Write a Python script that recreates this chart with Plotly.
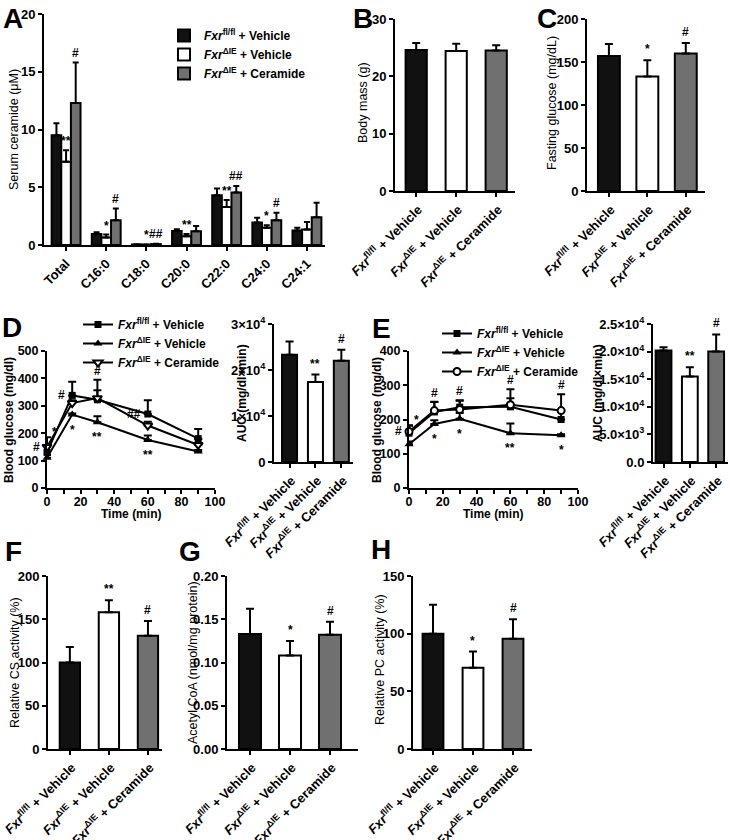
import plotly.graph_objects as go

# ---------------- data ----------------
groups = ["<i>Fxr</i><sup>fl/fl</sup> + Vehicle",
          "<i>Fxr</i><sup>ΔIE</sup> + Vehicle",
          "<i>Fxr</i><sup>ΔIE</sup> + Ceramide"]

# A: serum ceramide (µM)
species = ["Total", "C16:0", "C18:0", "C20:0", "C22:0", "C24:0", "C24:1"]
A_flfl = [9.5, 0.95, 0.05, 1.22, 4.3, 1.95, 1.25]
A_flfl_err = [1.05, 0.15, 0.02, 0.15, 0.6, 0.4, 0.25]
A_die = [7.2, 0.65, 0.03, 0.75, 3.3, 1.5, 1.35]
A_die_err = [1.0, 0.25, 0.02, 0.2, 0.6, 0.2, 0.65]
A_cer = [12.3, 2.15, 0.08, 1.2, 4.55, 2.15, 2.4]
A_cer_err = [3.5, 1.0, 0.03, 0.45, 0.55, 0.65, 1.25]
A_sig_die = ["**", "*", "*", "**", "**", "*", ""]
A_sig_cer = ["#", "#", "##", "", "##", "#", ""]

# B: body mass (g)
B_vals = [24.6, 24.4, 24.5]
B_err = [1.2, 1.3, 0.9]
B_sig = ["", "", ""]

# C: fasting glucose (mg/dL)
C_vals = [157, 133, 160]
C_err = [14, 19, 12]
C_sig = ["", "*", "#"]

# D / E: glucose tolerance (mg/dl) over time (min)
time_min = [0, 15, 30, 60, 90]
D_flfl = [130, 338, 322, 270, 180]
D_flfl_err = [20, 50, 35, 50, 35]
D_die = [110, 268, 240, 175, 133]
D_die_err = [10, 4, 22, 17, 6]
D_cer = [150, 310, 328, 228, 157]
D_cer_err = [35, 10, 67, 14, 22]
D_auc = [23300, 17400, 22000]
D_auc_err = [2900, 1600, 2400]
D_auc_sig = ["", "**", "#"]
D_auc_ticks = [0, 10000, 20000, 30000]
D_auc_ticktext = ["0", "1×10<sup>4</sup>", "2×10<sup>4</sup>", "3×10<sup>4</sup>"]

E_flfl = [160, 222, 236, 237, 200]
E_flfl_err = [22, 30, 20, 25, 24]
E_die = [128, 187, 202, 160, 154]
E_die_err = [8, 11, 17, 28, 3]
E_cer = [165, 226, 229, 243, 226]
E_cer_err = [18, 25, 26, 45, 48]
E_auc = [20200, 15500, 20000]
E_auc_err = [600, 1650, 3100]
E_auc_sig = ["", "**", "#"]
E_auc_ticks = [0, 5000, 10000, 15000, 20000, 25000]
E_auc_ticktext = ["0.0", "5.0×10<sup>3</sup>", "1.0×10<sup>4</sup>",
                  "1.5×10<sup>4</sup>", "2.0×10<sup>4</sup>", "2.5×10<sup>4</sup>"]

# F, G, H
F_vals = [100, 158, 131]
F_err = [18, 14, 17]
F_sig = ["", "**", "#"]
G_vals = [0.133, 0.108, 0.132]
G_err = [0.029, 0.017, 0.015]
G_sig = ["", "*", "#"]
H_vals = [100, 70.5, 95.5]
H_err = [25, 14, 17]
H_sig = ["", "*", "#"]

# significance marks on the time courses: (time index, text, placement)
D_marks = [(0, "*", "topright"), (0, "#", "left"), (1, "#", "left"), (1, "*", "below"),
           (2, "#", "above"), (2, "**", "below"), (3, "##", "left"), (3, "**", "below")]
E_marks = [(0, "#", "left"), (0, "*", "topright"), (1, "#", "above"), (1, "*", "below"),
           (2, "#", "above"), (2, "*", "below"), (3, "#", "above"), (3, "**", "below"),
           (4, "#", "above"), (4, "*", "below")]

# ---------------- style ----------------
W, H = 730, 840
FONT = "Arial, 'Liberation Sans', Helvetica, sans-serif"
COLORS = ["#111111", "#ffffff", "#707070"]


def px(x):
    return x / W


def py(y):
    return 1 - y / H


def dom_x(a, b):
    return [px(a), px(b)]


def dom_y(top, bottom):
    return [py(bottom), py(top)]


fig = go.Figure()
layout = {}
annotations = []

tickfont = dict(family=FONT, size=13, color="black", weight="bold")
titlefont = dict(family=FONT, size=12.5, color="black")
boldtitle = dict(family=FONT, size=12, color="black", weight="bold")


def axis_style():
    return dict(showline=True, linecolor="black", linewidth=2, ticks="outside",
                ticklen=4, tickwidth=2, tickcolor="black", showgrid=False,
                zeroline=False, tickfont=dict(tickfont), fixedrange=True, automargin=False,
                ticklabeloverflow="allow")


def ax_names(n):
    s = "" if n == 1 else str(n)
    return "xaxis" + s, "yaxis" + s, "x" + s, "y" + s


def title_ann(text, cx, cy, angle=-90, font=None):
    annotations.append(dict(xref="paper", yref="paper", x=px(cx), y=py(cy), text=text,
                            showarrow=False, xanchor="center", yanchor="middle", textangle=angle,
                            font=font or titlefont))


def sig_ann(xref, yref, x, y, text, yshift=2, xshift=0, xanchor="center", yanchor="bottom", size=12):
    annotations.append(dict(xref=xref, yref=yref, x=x, y=y, text=text, showarrow=False,
                            xanchor=xanchor, yanchor=yanchor, yshift=yshift, xshift=xshift,
                            font=dict(family=FONT, size=size, color="black", weight="bold")))


def bar_panel(n, vals, errs, sig, xpx, ypx, xrange, yrange, yticks,
              yticktext=None, bw=0.55, xfont=13):
    xa, ya, xr, yr = ax_names(n)
    xs = list(range(len(vals)))
    fig.add_trace(go.Bar(x=xs, y=vals, width=bw, xaxis=xr, yaxis=yr, showlegend=False,
                         marker=dict(color=COLORS, line=dict(color="black", width=2)),
                         error_y=dict(type="data", array=errs, arrayminus=[0] * len(errs),
                                      symmetric=False, color="black", thickness=2, width=4)))
    xs_style = axis_style()
    xs_style["tickfont"]["size"] = xfont
    layout[xa] = dict(domain=dom_x(*xpx), anchor=yr, range=xrange, tickvals=xs,
                      ticktext=groups, tickangle=-45, ticklabelshift=2, **xs_style)
    ydict = dict(domain=dom_y(*ypx), anchor=xr, range=yrange, tickvals=yticks, **axis_style())
    if yticktext is not None:
        ydict["ticktext"] = yticktext
    layout[ya] = ydict
    for i, s in enumerate(sig):
        if s:
            sig_ann(xr, yr, xs[i], vals[i] + errs[i], s)


# ---- Panel A ----
xa, ya, xr, yr = ax_names(1)
A_series = [(A_flfl, A_flfl_err), (A_die, A_die_err), (A_cer, A_cer_err)]
bwA = 0.24
xsA = list(range(len(species)))
for k, (v, e) in enumerate(A_series):
    fig.add_trace(go.Bar(x=xsA, y=v, width=bwA, offset=-1.5 * bwA + k * bwA, name=groups[k],
                         xaxis=xr, yaxis=yr, legend="legend",
                         marker=dict(color=COLORS[k], line=dict(color="black", width=2)),
                         error_y=dict(type="data", array=e, arrayminus=[0] * len(e), symmetric=False,
                                      color="black", thickness=2, width=3)))
layout[xa] = dict(domain=dom_x(44, 325), anchor=yr, range=[-0.55, 6.45], tickvals=xsA,
                  ticktext=species, tickangle=-45, **axis_style())
layout[ya] = dict(domain=dom_y(14, 245), anchor=xr, range=[0, 20], tickvals=[0, 5, 10, 15, 20],
                  **axis_style())
title_ann("Serum ceramide (μM)", 14, 130)
for i in xsA:
    if A_sig_die[i]:
        sig_ann(xr, yr, i, A_die[i] + A_die_err[i], A_sig_die[i], yshift=0)
    if A_sig_cer[i]:
        sig_ann(xr, yr, i + bwA, A_cer[i] + A_cer_err[i], A_sig_cer[i], yshift=1)

# ---- Panels B, C ----
bar_panel(2, B_vals, B_err, B_sig, (395, 515), (19, 191), [-0.53, 2.47], [0, 30],
          [0, 10, 20, 30], bw=0.53)
title_ann("Body mass (g)", 363, 103)
bar_panel(3, C_vals, C_err, C_sig, (587, 705), (19, 191), [-0.57, 2.5], [0, 200],
          [0, 50, 100, 150, 200], bw=0.57)
title_ann("Fasting glucose (mg/dL)", 552, 103)


# ---- Line panels D, E ----
def line_panel(n, flfl, flfl_e, die, die_e, cer, cer_e, cer_marker, xpx, ypx, yrange, yticks,
               legend_name, marks):
    xa, ya, xr, yr = ax_names(n)
    series = [(flfl, flfl_e, dict(symbol="square", size=7, color="black")),
              (die, die_e, dict(symbol="triangle-up", size=8, color="black")),
              (cer, cer_e, dict(cer_marker, color="white", line=dict(color="black", width=2)))]
    for k, (v, e, m) in enumerate(series):
        fig.add_trace(go.Scatter(x=time_min, y=v, mode="lines+markers", name=groups[k],
                                 xaxis=xr, yaxis=yr, legend=legend_name, cliponaxis=False,
                                 line=dict(color="black", width=2), marker=m,
                                 error_y=dict(type="data", array=e, arrayminus=[0] * len(e),
                                              symmetric=False, color="black", thickness=2, width=4)))
    xstyle = axis_style()
    xstyle["tickfont"]["size"] = 12.5
    layout[xa] = dict(domain=dom_x(*xpx), anchor=yr, range=[0, 100], tickvals=[0, 20, 40, 60, 80, 100],
                      ticklabelstandoff=-3,
                      minor=dict(tickvals=[10, 30, 50, 70, 90], ticks="outside", ticklen=4,
                                 tickwidth=2, tickcolor="black"),
                      **xstyle)
    ystyle = axis_style()
    ystyle["tickfont"]["size"] = 12.5
    layout[ya] = dict(domain=dom_y(*ypx), anchor=xr, range=yrange, tickvals=yticks, **ystyle)
    for (i, txt, place) in marks:
        t = time_min[i]
        tops = [flfl[i] + flfl_e[i], die[i] + die_e[i], cer[i] + cer_e[i]]
        if place == "above":
            sig_ann(xr, yr, t, max(tops), txt, yshift=0)
        elif place == "below":
            sig_ann(xr, yr, t, die[i], txt, yshift=-6, yanchor="top")
        elif place == "left":
            sig_ann(xr, yr, t, max(flfl[i], cer[i]), txt, xshift=-5, xanchor="right",
                    yanchor="middle", yshift=0)
        elif place == "topright":
            sig_ann(xr, yr, t, max(tops), txt, xshift=3, xanchor="left", yshift=-4)


line_panel(4, D_flfl, D_flfl_err, D_die, D_die_err, D_cer, D_cer_err,
           dict(symbol="triangle-down", size=8),
           (47, 215), (351, 488), [0, 500], [0, 100, 200, 300, 400, 500], "legend2", D_marks)
title_ann("Blood glucose (mg/dl)", 9, 420, font=boldtitle)
title_ann("Time (min)", 131, 514, angle=0, font=boldtitle)
bar_panel(5, D_auc, D_auc_err, D_auc_sig, (274, 353), (324, 462), [-0.6, 2.45], [0, 30000],
          D_auc_ticks, D_auc_ticktext, bw=0.58)
title_ann("AUC (mg/dl×min)", 242, 393, font=boldtitle)
line_panel(6, E_flfl, E_flfl_err, E_die, E_die_err, E_cer, E_cer_err,
           dict(symbol="circle", size=7),
           (409, 578), (351, 488), [0, 400], [0, 100, 200, 300, 400], "legend3", E_marks)
title_ann("Blood glucose (mg/dl)", 377, 420, font=boldtitle)
title_ann("Time (min)", 493, 514, angle=0, font=boldtitle)
bar_panel(7, E_auc, E_auc_err, E_auc_sig, (653, 728), (324, 462), [-0.4, 2.45], [0, 25000],
          E_auc_ticks, E_auc_ticktext, bw=0.6)
title_ann("AUC (mg/dl×min)", 598, 393, font=boldtitle)

# ---- Panels F, G, H ----
bar_panel(8, F_vals, F_err, F_sig, (48, 162), (576, 749), [-0.56, 2.36], [0, 200],
          [0, 50, 100, 150, 200], bw=0.52)
title_ann("Relative CS activity (%)", 15, 663)
bar_panel(9, G_vals, G_err, G_sig, (227, 358), (576, 749), [-0.575, 2.7], [0, 0.20],
          [0, 0.05, 0.10, 0.15, 0.20], ["0.00", "0.05", "0.10", "0.15", "0.20"], bw=0.55)
title_ann("Acetyl CoA (nmol/mg protein)", 193, 663)
bar_panel(10, H_vals, H_err, H_sig, (413, 532), (576, 749), [-0.5, 2.475], [0, 150],
          [0, 50, 100, 150], bw=0.52)
title_ann("Relative PC activity (%)", 380, 660)

# ---- panel letters ----
for letter, lx, ly in [("A", 13, 18), ("B", 363, 18), ("C", 547, 18), ("D", 12, 328),
                       ("E", 381, 329), ("F", 13, 551), ("G", 190, 551), ("H", 381, 549)]:
    annotations.append(dict(xref="paper", yref="paper", x=px(lx), y=py(ly), text=letter,
                            showarrow=False, xanchor="center", yanchor="middle",
                            font=dict(family=FONT, size=28, color="black", weight="bold")))

legfont = dict(family=FONT, size=12, color="black", weight="bold")
layout["legend"] = dict(x=px(164), y=py(21), xanchor="left", yanchor="top", font=legfont,
                        bgcolor="rgba(0,0,0,0)", tracegroupgap=0, itemclick=False)
layout["legend2"] = dict(x=px(78), y=py(310), xanchor="left", yanchor="top", font=legfont,
                         bgcolor="rgba(0,0,0,0)", tracegroupgap=0, itemclick=False)
layout["legend3"] = dict(x=px(437), y=py(319), xanchor="left", yanchor="top", font=legfont,
                         bgcolor="rgba(0,0,0,0)", tracegroupgap=0, itemclick=False)

fig.update_layout(width=W, height=H, margin=dict(l=0, r=0, t=0, b=0, autoexpand=False),
                  plot_bgcolor="white",
                  paper_bgcolor="white", barmode="overlay", annotations=annotations,
                  font=dict(family=FONT, color="black"), **layout)
fig.write_html("out.html", config={"displayModeBar": False},
               post_script="document.body.style.margin='0';document.body.style.overflow='hidden';")
